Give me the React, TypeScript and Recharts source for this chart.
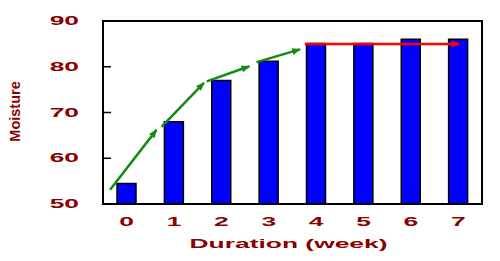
import React from 'react';
import { BarChart, Bar, XAxis, YAxis, ReferenceLine } from 'recharts';

// moisture by week
const weeks = [0, 1, 2, 3, 4, 5, 6, 7];
const moisture = [54.5, 68, 77, 81.2, 85.1, 85.1, 86, 86];
const yTicks = [50, 60, 70, 80, 90];
const minorTicks = [0.5, 1.5, 2.5, 3.5, 4.5, 5.5, 6.5];

// green "rising" arrows and the red "plateau" arrow, in data units (week, moisture)
const riseStart = [[-0.35, 53.1], [0.74, 66.9], [1.69, 76.8], [2.74, 81.0]];
const riseEnd = [[0.63, 66.2], [1.63, 76.5], [2.59, 80.1], [3.66, 83.8]];
const flatStart = [3.76, 85];
const flatEnd = [7.02, 85];

const xDomain = [-0.5, 7.5];
const yDomain = [50, 90];

const data = weeks.map((w, i) => ({ week: w, moisture: moisture[i] }));

const RED = '#8B0000';
const FONT = '"Liberation Sans", Arial, sans-serif';

const XTick = ({ x, y, payload }: any) => (
  <g transform={`translate(${x},${y + 9})`}>
    <text transform="scale(2.2,1)" textAnchor="middle" fill={RED} fontSize={12} fontWeight={700} fontFamily={FONT}>
      {payload.value}
    </text>
  </g>
);

const YTick = ({ x, y, payload }: any) => (
  <g transform={`translate(${x},${y + 4.2})`}>
    <text transform="scale(2.2,1)" textAnchor="end" fill={RED} fontSize={12} fontWeight={700} fontFamily={FONT}>
      {payload.value}
    </text>
  </g>
);

const XTitle = ({ viewBox }: any) => (
  <g transform={`translate(${viewBox.x + viewBox.width / 2 - 4},248)`}>
    <text transform="scale(2.2,1)" textAnchor="middle" fill={RED} fontSize={12} fontWeight={700} fontFamily={FONT}>
      Duration (week)
    </text>
  </g>
);

const YTitle = ({ viewBox }: any) => (
  <text
    transform={`translate(${viewBox.x + 20},111.5) rotate(-90)`}
    textAnchor="middle"
    fill={RED}
    fontSize={14.5}
    fontWeight={700}
    fontFamily={FONT}
  >
    Moisture
  </text>
);

const arrowShape = (color: string, marker: string) => (p: any) => (
  <line x1={p.x1} y1={p.y1} x2={p.x2} y2={p.y2} stroke={color} strokeWidth={2.5} markerEnd={`url(#${marker})`} />
);

const frameShape = (p: any) => (
  <line x1={p.x1} y1={p.y1} x2={p.x2} y2={p.y2} stroke="#000" strokeWidth={2} strokeLinecap="square" />
);

export default function App() {
  return (
    <div style={{ position: 'absolute', left: 0, top: 0, width: 500, height: 261, background: '#fff' }}>
      <BarChart width={500} height={261} data={data} margin={{ top: 21, right: 18, bottom: 0, left: 0 }}>
        <defs>
          <marker id="headGreen" viewBox="0 0 10 8" refX={9} refY={4} markerWidth={9} markerHeight={7} markerUnits="userSpaceOnUse" orient="auto">
            <path d="M0,0 L10,4 L0,8 z" fill="#138A13" />
          </marker>
          <marker id="headRed" viewBox="0 0 10 8" refX={9} refY={4} markerWidth={9} markerHeight={7} markerUnits="userSpaceOnUse" orient="auto">
            <path d="M0,0 L10,4 L0,8 z" fill="#FF0000" />
          </marker>
        </defs>
        <XAxis
          xAxisId="minor"
          type="number"
          domain={xDomain}
          ticks={minorTicks}
          tick={false}
          tickSize={-4}
          tickLine={{ stroke: '#000', strokeWidth: 1.5 }}
          axisLine={false}
          height={1}
        />
        <XAxis
          dataKey="week"
          type="number"
          domain={xDomain}
          ticks={weeks}
          tick={<XTick />}
          tickLine={false}
          tickSize={0}
          tickMargin={13}
          axisLine={false}
          height={56}
          label={<XTitle />}
        />
        <YAxis
          domain={yDomain}
          ticks={yTicks}
          tick={<YTick />}
          tickSize={-8}
          tickMargin={32}
          tickLine={{ stroke: '#000', strokeWidth: 1.5 }}
          axisLine={{ stroke: '#000', strokeWidth: 2 }}
          width={103}
          label={<YTitle />}
        />
        <Bar dataKey="moisture" fill="#0000FF" stroke="#000" strokeWidth={1.5} barSize={19} isAnimationActive={false} />
        {riseStart.map((s, i) => (
          <ReferenceLine
            key={`rise-${i}`}
            segment={[
              { x: s[0], y: s[1] },
              { x: riseEnd[i][0], y: riseEnd[i][1] },
            ]}
            shape={arrowShape('#138A13', 'headGreen')}
          />
        ))}
        <ReferenceLine
          segment={[
            { x: flatStart[0], y: flatStart[1] },
            { x: flatEnd[0], y: flatEnd[1] },
          ]}
          shape={arrowShape('#FF0000', 'headRed')}
        />
        {/* frame: bottom, top and right edges of the plot box */}
        <ReferenceLine
          segment={[{ x: xDomain[0], y: yDomain[0] }, { x: xDomain[1], y: yDomain[0] }]}
          shape={frameShape}
          ifOverflow="visible"
        />
        <ReferenceLine
          segment={[{ x: xDomain[0], y: yDomain[1] }, { x: xDomain[1], y: yDomain[1] }]}
          shape={frameShape}
          ifOverflow="visible"
        />
        <ReferenceLine
          segment={[{ x: xDomain[1], y: yDomain[0] }, { x: xDomain[1], y: yDomain[1] }]}
          shape={frameShape}
          ifOverflow="visible"
        />
      </BarChart>
    </div>
  );
}
